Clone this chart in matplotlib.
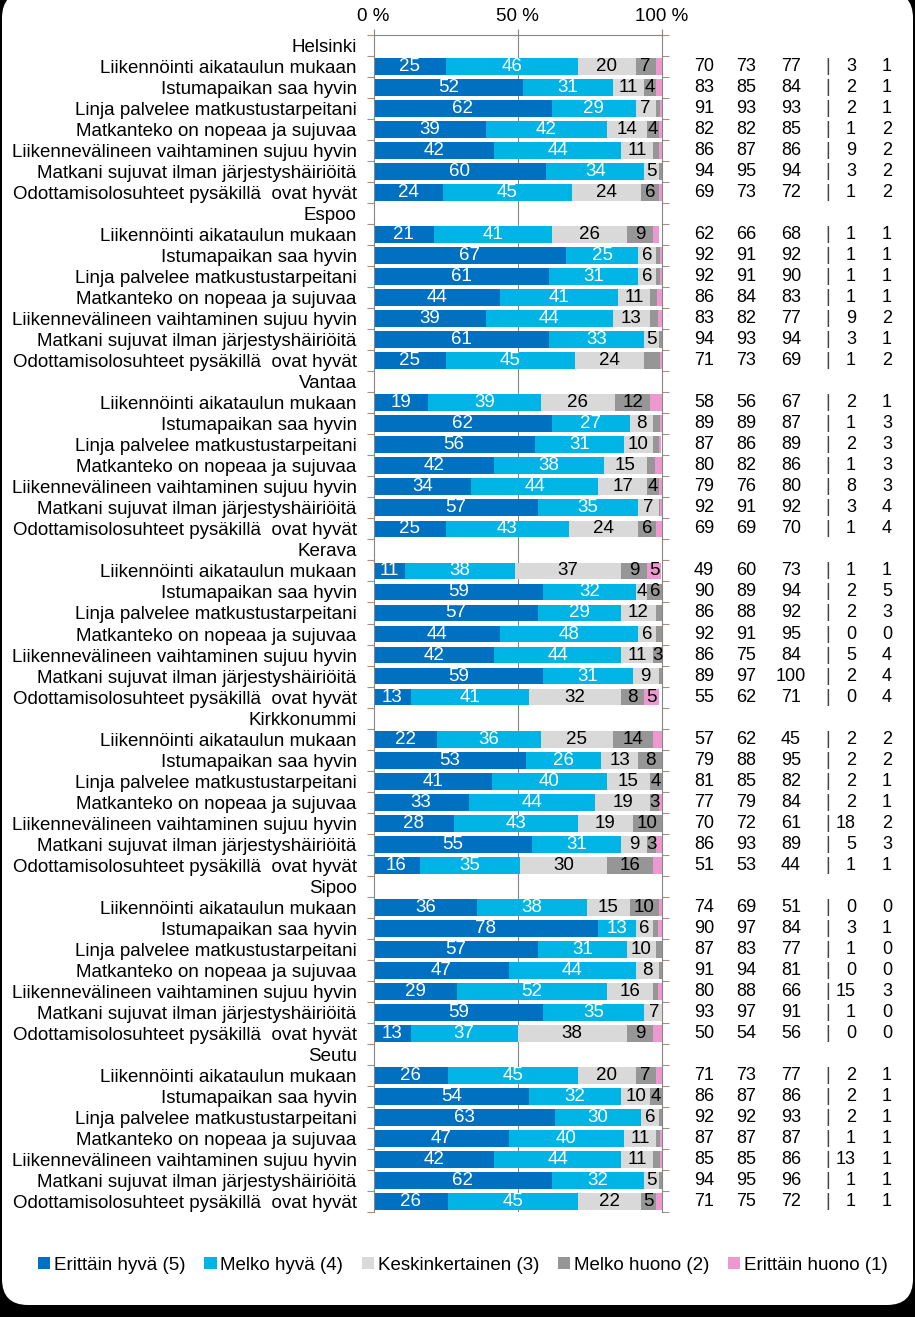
import matplotlib
matplotlib.use('Agg')
import matplotlib.pyplot as plt
from matplotlib.patches import FancyBboxPatch, Patch
from matplotlib.transforms import blended_transform_factory, IdentityTransform
import numpy as np

plt.rcParams['font.family'] = ['Liberation Sans', 'DejaVu Sans']

groups = ['Helsinki', 'Espoo', 'Vantaa', 'Kerava', 'Kirkkonummi', 'Sipoo', 'Seutu']
items = ['Liikennöinti aikataulun mukaan',
         'Istumapaikan saa hyvin',
         'Linja palvelee matkustustarpeitani',
         'Matkanteko on nopeaa ja sujuvaa',
         'Liikennevälineen vaihtaminen sujuu hyvin',
         'Matkani sujuvat ilman järjestyshäiriöitä',
         'Odottamisolosuhteet pysäkillä  ovat hyvät']
series_names = ['Erittäin hyvä (5)', 'Melko hyvä (4)', 'Keskinkertainen (3)',
                'Melko huono (2)', 'Erittäin huono (1)']
colors = ['#0070C0', '#00B4E6', '#D9D9D9', '#969696', '#EE98D0']
text_colors = ['white', 'white', 'black', 'black', 'black']

# shares (%) per row, 7 groups x 7 items
erittain_hyva = [25, 52, 62, 39, 42, 60, 24,
                 21, 67, 61, 44, 39, 61, 25,
                 19, 62, 56, 42, 34, 57, 25,
                 11, 59, 57, 44, 42, 59, 13,
                 22, 53, 41, 33, 28, 55, 16,
                 36, 78, 57, 47, 29, 59, 13,
                 26, 54, 63, 47, 42, 62, 26]
melko_hyva = [46, 31, 29, 42, 44, 34, 45,
              41, 25, 31, 41, 44, 33, 45,
              39, 27, 31, 38, 44, 35, 43,
              38, 32, 29, 48, 44, 31, 41,
              36, 26, 40, 44, 43, 31, 35,
              38, 13, 31, 44, 52, 35, 37,
              45, 32, 30, 40, 44, 32, 45]
keskinkertainen = [20, 11, 7, 14, 11, 5, 24,
                   26, 6, 6, 11, 13, 5, 24,
                   26, 8, 10, 15, 17, 7, 24,
                   37, 4, 12, 6, 11, 9, 32,
                   25, 13, 15, 19, 19, 9, 30,
                   15, 6, 10, 8, 16, 7, 38,
                   20, 10, 6, 11, 11, 5, 22]
melko_huono = [7, 4, 1.5, 4, 2, 1, 6,
               9, 1.5, 1.5, 2.5, 2.9, 1, 5.5,
               12, 2.5, 2.2, 2.8, 4, 0.5, 6,
               9, 5.5, 2, 2, 3, 1, 8,
               14, 8, 4, 3, 10, 3, 16,
               10, 1.7, 2, 1, 1.8, 0, 9,
               7, 4, 1, 1.5, 2.5, 1, 5]
erittain_huono = [2, 2, 0.5, 1, 1, 0, 1,
                  2, 0.5, 0.5, 1.5, 1.1, 0, 0.5,
                  4, 0.5, 0.8, 2.2, 1, 0.5, 2,
                  5, 0, 0, 0, 0, 0, 5,
                  3, 0, 0, 1, 0, 2, 3,
                  1, 1.3, 0, 0, 1.2, 0, 3,
                  2, 0, 0, 0.5, 0.5, 0, 2]
# labels not shown in the original (row index, series index)
hidden_labels = [(13, 3)]

# right-hand columns
col_a = [70, 83, 91, 82, 86, 94, 69,
         62, 92, 92, 86, 83, 94, 71,
         58, 89, 87, 80, 79, 92, 69,
         49, 90, 86, 92, 86, 89, 55,
         57, 79, 81, 77, 70, 86, 51,
         74, 90, 87, 91, 80, 93, 50,
         71, 86, 92, 87, 85, 94, 71]
col_b = [73, 85, 93, 82, 87, 95, 73,
         66, 91, 91, 84, 82, 93, 73,
         56, 89, 86, 82, 76, 91, 69,
         60, 89, 88, 91, 75, 97, 62,
         62, 88, 85, 79, 72, 93, 53,
         69, 97, 83, 94, 88, 97, 54,
         73, 87, 92, 87, 85, 95, 75]
col_c = [77, 84, 93, 85, 86, 94, 72,
         68, 92, 90, 83, 77, 94, 69,
         67, 87, 89, 86, 80, 92, 70,
         73, 94, 92, 95, 84, 100, 71,
         45, 95, 82, 84, 61, 89, 44,
         51, 84, 77, 81, 66, 91, 56,
         77, 86, 93, 87, 86, 96, 72]
col_d = [3, 2, 2, 1, 9, 3, 1,
         1, 1, 1, 1, 9, 3, 1,
         2, 1, 2, 1, 8, 3, 1,
         1, 2, 2, 0, 5, 2, 0,
         2, 2, 2, 2, 18, 5, 1,
         0, 3, 1, 0, 15, 1, 0,
         2, 2, 2, 1, 13, 1, 1]
col_e = [1, 1, 1, 2, 2, 2, 2,
         1, 1, 1, 1, 2, 1, 2,
         1, 3, 3, 3, 3, 4, 4,
         1, 5, 3, 0, 4, 4, 4,
         2, 2, 1, 1, 2, 3, 1,
         0, 1, 0, 0, 3, 0, 0,
         1, 1, 1, 1, 1, 1, 1]

series = [erittain_hyva, melko_hyva, keskinkertainen, melko_huono, erittain_huono]

W, H = 915, 1317
FS = 13.5
FS_COL = 13
fig = plt.figure(figsize=(W / 100, H / 100), dpi=100, facecolor='black')
bg = FancyBboxPatch((2, 12), 911, 1313, boxstyle='round,pad=0,rounding_size=26',
                    transform=IdentityTransform(), facecolor='white', edgecolor='none', zorder=-10)
fig.patches.append(bg)

ax = fig.add_axes([373.5 / W, 105 / H, 288 / W, 1177 / H])
ax.set_facecolor('none')
ax.set_zorder(5)

n_rows = len(groups) * (len(items) + 1)
ylabels = []
bar_y = []
for g, name in enumerate(groups):
    ylabels.append(name)
    for i, it in enumerate(items):
        ylabels.append(it)
        bar_y.append(g * (len(items) + 1) + 1 + i)
bar_y = np.array(bar_y)

left = np.zeros(len(bar_y))
for s, vals in enumerate(series):
    vals = np.array(vals, dtype=float)
    ax.barh(bar_y, vals, left=left, height=0.8, color=colors[s], edgecolor='none', zorder=2)
    for r, (y, v, l) in enumerate(zip(bar_y, vals, left)):
        thr = 5 if s == 4 else 3
        if v >= thr and (r, s) not in hidden_labels:
            ax.text(l + v / 2, y, f"{v:.0f}", ha='center', va='center',
                    color=text_colors[s], fontsize=FS, zorder=3)
    left = left + vals

ax.set_xlim(0, 100)
ax.set_ylim(n_rows - 0.5, -0.5)

gray = '#868686'
tickc = '#A89080'
ax.axvline(50, color=gray, lw=0.8, zorder=1)
for sp in ['top', 'left', 'right']:
    ax.spines[sp].set_color(gray)
    ax.spines[sp].set_linewidth(0.8)
ax.spines['bottom'].set_visible(False)

ax.xaxis.tick_top()
ax.set_xticks([0, 50, 100])
ax.set_xticklabels(['0 %', '50 %', '100 %'], fontsize=FS)
ax.tick_params(axis='x', length=4, width=0.8, color=gray, pad=3)

ax.set_yticks(np.arange(n_rows))
ax.set_yticklabels(ylabels, fontsize=FS)
ax.set_yticks(np.arange(-0.5, n_rows, 1), minor=True)
ax.tick_params(axis='y', which='major', length=0, pad=12)
ax.tick_params(axis='y', which='minor', length=5, width=0.8, color=tickc,
               left=True, right=True, direction='out')

tr = blended_transform_factory(fig.transFigure, ax.transData)
for y, a, b, c, d, e in zip(bar_y, col_a, col_b, col_c, col_d, col_e):
    ax.text(704 / W, y, f"{a}", transform=tr, ha='center', va='center', fontsize=FS_COL, clip_on=False)
    ax.text(746 / W, y, f"{b}", transform=tr, ha='center', va='center', fontsize=FS_COL, clip_on=False)
    ax.text(791 / W, y, f"{c}", transform=tr, ha='center', va='center', fontsize=FS_COL, clip_on=False)
    ax.text(828 / W, y, "|", transform=tr, ha='center', va='center', fontsize=FS_COL, color='#444444', clip_on=False)
    ax.text(856 / W, y, f"{d}", transform=tr, ha='right', va='center', fontsize=FS_COL, clip_on=False)
    ax.text(887 / W, y, f"{e}", transform=tr, ha='center', va='center', fontsize=FS_COL, clip_on=False)

handles = [Patch(facecolor=c, edgecolor='none') for c in colors]
fig.legend(handles, series_names, ncol=5, loc='center', bbox_to_anchor=(463 / W, 52 / H),
           frameon=False, fontsize=FS, handlelength=0.65, handleheight=0.65,
           handletextpad=0.2, columnspacing=1.0, borderaxespad=0)

fig.savefig('out.png', dpi=100, facecolor='black')
